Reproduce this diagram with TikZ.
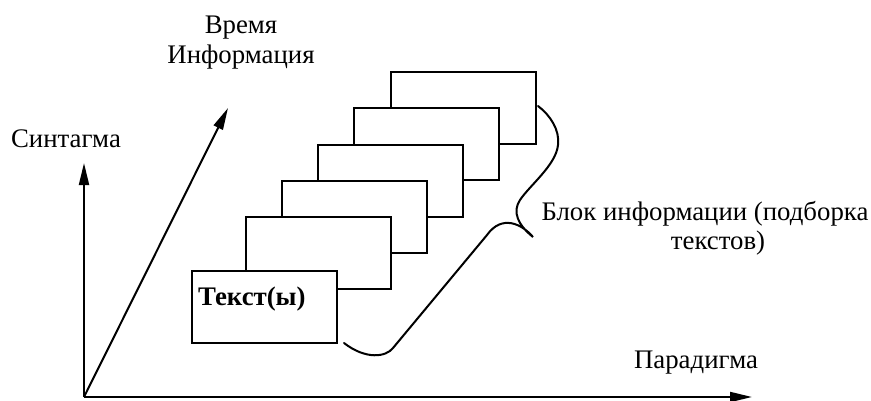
\documentclass[tikz,border=0pt]{standalone}
\usepackage{fontspec}
\setmainfont{Liberation Serif}
\usetikzlibrary{arrows.meta}
\begin{document}
\begin{tikzpicture}[x=1pt,y=-1pt,
  lbl/.style={font=\fontsize{26.8}{29}\selectfont, inner sep=0pt},
  page/.style={draw, fill=white, line width=2pt, minimum width=145pt, minimum height=72pt, inner sep=0pt},
  axis/.style={line width=2pt, -{Triangle[length=22pt,width=10pt]}},
  brace/.style={line width=2pt, line cap=round}]
\useasboundingbox (0,0) rectangle (871,400);
% axes
\coordinate (o) at (84,397);
\coordinate (xend) at (752,397);
\coordinate (yend) at (84,163);
\coordinate (zend) at (228,108);
\draw[axis] (o) -- (xend);
\draw[axis] (o) -- (yend);
\draw[axis] (o) -- (zend);
% labels
\node[lbl, anchor=base] (zl1) at (241,33) {Время};
\node[lbl, anchor=base] (zl2) at (241,63) {Информация};
\node[lbl, anchor=base] (yl) at (66,147) {Синтагма};
\node[lbl, anchor=base] (xl) at (696,368) {Парадигма};
% pages
\node[page] (b6) at (463.3,107.8) {};
\node[page] (b5) at (426.8,144.2) {};
\node[page] (b4) at (390.8,180.7) {};
\node[page] (b3) at (354.8,216.7) {};
\node[page] (b2) at (318.7,252.7) {};
\node[page] (b1) at (264.2,307) {};
\node[lbl, anchor=base west, font=\fontsize{26.8}{29}\selectfont\bfseries] (t1) at (198,305) {Текст(ы)};
% brace
\coordinate (bs) at (538,106);
\coordinate (bt) at (533,237);
\coordinate (be) at (344,343);
\draw[brace] (bs) .. controls (550,115) and (560,130) .. (558,145)
  .. controls (556,165) and (530,185) .. (520,200)
  .. controls (512,212) and (518,225) .. (bt)
  .. controls (522,224) and (502,214) .. (487,235)
  -- (393,348) .. controls (386,357) and (366,360) .. (be);
\node[lbl, anchor=base] (bl1) at (705,220) {Блок информации (подборка};
\node[lbl, anchor=base] (bl2) at (718,249) {текстов)};
\end{tikzpicture}
\end{document}
